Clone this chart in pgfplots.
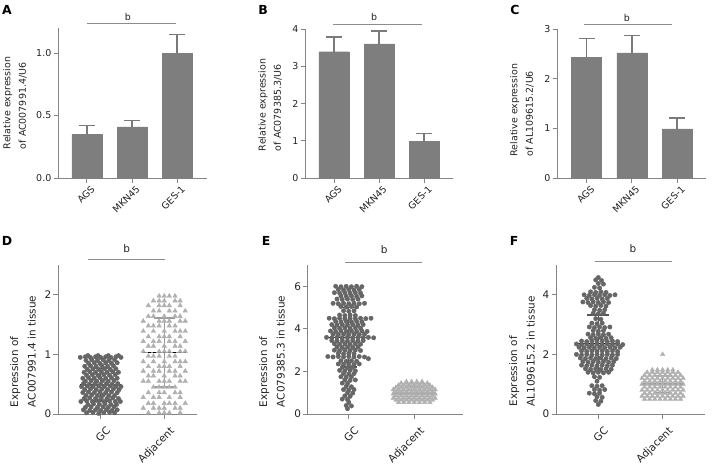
\documentclass[border=0pt]{standalone}
\usepackage{fontspec}
\setmainfont{DejaVu Sans}
\usepackage{pgfplots}
\pgfplotsset{compat=1.18}
\definecolor{bargray}{HTML}{7E7E7E}
\definecolor{errgray}{HTML}{7A7A7A}
\definecolor{axgray}{HTML}{858585}
\definecolor{siggray}{HTML}{8C8C8C}
\definecolor{gcgray}{HTML}{666666}
\definecolor{gcsd}{HTML}{555555}
\definecolor{adjgray}{HTML}{B0B0B0}
\definecolor{adjsd}{HTML}{9A9A9A}
\definecolor{txt}{HTML}{222222}
\pgfplotsset{
  panel/.style={scale only axis, anchor=south west, clip=false,
    axis lines*=left, axis line style={draw=axgray, line width=0.9bp, -},
    tick align=outside, major tick length=4.5bp,
    tick style={draw=axgray, line width=0.9bp},
    ymin=0, /pgf/number format/assume math mode=true,
    yticklabel style={inner sep=2bp, text=txt},
    ylabel style={align=left, anchor=center, text=txt}},
  top/.style={panel, tick label style={font=\fontsize{9.5}{11}\selectfont},
    label style={font=\fontsize{9.5}{15.5}\selectfont},
    xticklabel style={rotate=45, anchor=north east, inner sep=1.5bp, text=txt, xshift=2.5bp, yshift=-2.5bp},
    xtick={0,1,2}, xticklabels={AGS,MKN45,GES-1}},
  bot/.style={panel, tick label style={font=\fontsize{10.5}{12}\selectfont},
    label style={font=\fontsize{10.5}{17.5}\selectfont},
    xticklabel style={rotate=45, anchor=north east, inner sep=1.5bp, text=txt, xshift=0bp, yshift=-7bp},
    xtick={0,1}, xticklabels={GC,Adjacent}},
  barplot/.style={ybar, bar width=30bp, fill=bargray, draw=bargray,
    error bars/.cd, y dir=plus, y explicit,
    error bar style={draw=errgray, line width=1.5bp},
    error mark options={draw=errgray, rotate=90, mark size=8bp, line width=1.5bp}},
  gcdots/.style={only marks, mark=*, mark size=2.2bp, mark options={draw=gcgray, fill=gcgray}},
  adjdots/.style={only marks, mark=triangle*, mark size=2.6bp, mark options={draw=adjgray, fill=adjgray}},
  sdbar/.style 2 args={draw=none, mark=none, error bars/.cd, y dir=both, y explicit,
    error bar style={draw=#1, line width=1.4bp},
    error mark options={draw=#1, rotate=90, mark size=#2, line width=1.4bp}},
  meanbase/.style={line width=1.7bp, mark=none},
  meandash/.style={black, line width=1.2bp, dash pattern=on 3bp off 2bp, mark=none},
}
\newcommand{\sigtop}{\fontsize{9.5}{11}\selectfont}
\newcommand{\sigbot}{\fontsize{10.5}{12}\selectfont}
\begin{document}
\begin{tikzpicture}
\useasboundingbox (0,0) rectangle (714bp,-465bp);
\tikzset{letter/.style={font=\bfseries\fontsize{12.5}{14}\selectfont, anchor=center}}
\node[letter] at (7bp,-9.5bp) {A};
\node[letter] at (263bp,-9.5bp) {B};
\node[letter] at (515bp,-9.5bp) {C};
\node[letter] at (7bp,-241bp) {D};
\node[letter] at (266bp,-241bp) {E};
\node[letter] at (514bp,-241bp) {F};

% ---------- A ----------
\begin{axis}[top, at={(58bp,-178bp)}, width=149bp, height=150bp,
  xmin=-0.638, xmax=2.66, ymax=1.2, ytick={0,0.5,1.0},
  yticklabel style={/pgf/number format/.cd, fixed, fixed zerofill, precision=1},
  ylabel={Relative expression\\of AC007991.4/U6},
  ylabel style={at={(axis description cs:-0.289,0.5)}}]
\addplot[barplot] coordinates {(0,0.347) +- (0,0.073) (1,0.41) +- (0,0.05) (2,1.0) +- (0,0.15)};
\draw[siggray, line width=0.8bp] (axis cs:0,1.235) -- (axis cs:1.98,1.235);
\node[font=\sigtop, text=txt] at (axis cs:0.91,1.29) {b};
\end{axis}

% ---------- B ----------
\begin{axis}[top, at={(305bp,-178bp)}, width=148bp, height=149bp,
  xmin=-0.644, xmax=2.644, ymax=4, ytick={0,1,2,3,4},
  ylabel={Relative expression\\of AC079385.3/U6},
  ylabel style={at={(axis description cs:-0.236,0.49)}}]
\addplot[barplot] coordinates {(0,3.39) +- (0,0.40) (1,3.6) +- (0,0.35) (2,0.98) +- (0,0.21)};
\draw[siggray, line width=0.8bp] (axis cs:-0.02,4.13) -- (axis cs:1.96,4.13);
\node[font=\sigtop, text=txt] at (axis cs:0.89,4.32) {b};
\end{axis}

% ---------- C ----------
\begin{axis}[top, at={(557bp,-178bp)}, width=149bp, height=149bp,
  xmin=-0.652, xmax=2.64, ymax=3, ytick={0,1,2,3},
  ylabel={Relative expression\\of AL109615.2/U6},
  ylabel style={at={(axis description cs:-0.235,0.456)}}]
\addplot[barplot] coordinates {(0,2.43) +- (0,0.38) (1,2.52) +- (0,0.35) (2,0.99) +- (0,0.22)};
\draw[siggray, line width=0.8bp] (axis cs:-0.06,3.10) -- (axis cs:1.89,3.10);
\node[font=\sigtop, text=txt] at (axis cs:0.89,3.22) {b};
\end{axis}

% ---------- D ----------
\begin{axis}[bot, at={(58bp,-414bp)}, width=138.7bp, height=149bp,
  xmin=-0.67, xmax=1.51, ymax=2.5, ytick={0,1,2},
  ylabel={Expression of\\AC007991.4 in tissue},
  ylabel style={at={(axis description cs:-0.252,0.42)}}]
\addplot[gcdots] coordinates {
(-0.22,0.02)(-0.12,0.03)(-0.03,0.01)(0.05,0.02)(0.14,0.03)(0.22,0.02)
(-0.27,0.07)(-0.17,0.06)(-0.08,0.07)(0.0,0.06)(0.09,0.07)(0.18,0.06)(0.26,0.07)
(-0.24,0.11)(-0.15,0.12)(-0.05,0.11)(0.04,0.12)(0.12,0.11)(0.21,0.12)
(-0.20,0.16)(-0.11,0.17)(-0.02,0.16)(0.07,0.17)(0.16,0.16)(0.25,0.16)
(-0.31,0.21)(-0.22,0.22)(-0.13,0.21)(-0.04,0.22)(0.05,0.21)(0.14,0.22)(0.23,0.21)(0.31,0.21)
(-0.26,0.26)(-0.17,0.27)(-0.08,0.26)(0.01,0.27)(0.10,0.26)(0.19,0.27)(0.28,0.26)
(-0.23,0.31)(-0.14,0.32)(-0.05,0.31)(0.04,0.32)(0.13,0.31)(0.22,0.31)
(-0.28,0.36)(-0.19,0.37)(-0.10,0.36)(-0.01,0.37)(0.08,0.36)(0.17,0.37)(0.26,0.36)
(-0.25,0.41)(-0.16,0.42)(-0.07,0.41)(0.02,0.42)(0.11,0.41)(0.20,0.42)(0.29,0.41)
(-0.30,0.46)(-0.21,0.47)(-0.12,0.46)(-0.03,0.47)(0.06,0.46)(0.15,0.47)(0.24,0.46)(0.32,0.46)
(-0.27,0.51)(-0.18,0.50)(-0.09,0.51)(0.0,0.50)(0.09,0.51)(0.18,0.50)(0.27,0.51)
(-0.24,0.55)(-0.15,0.56)(-0.06,0.55)(0.03,0.56)(0.12,0.55)(0.21,0.56)
(-0.28,0.60)(-0.19,0.61)(-0.10,0.60)(-0.01,0.61)(0.08,0.60)(0.17,0.61)(0.26,0.60)
(-0.22,0.65)(-0.13,0.66)(-0.04,0.65)(0.05,0.66)(0.14,0.65)(0.23,0.66)
(-0.26,0.70)(-0.17,0.71)(-0.08,0.70)(0.01,0.71)(0.10,0.70)(0.19,0.71)(0.28,0.70)
(-0.21,0.75)(-0.12,0.76)(-0.03,0.75)(0.06,0.76)(0.15,0.75)(0.24,0.76)
(-0.25,0.80)(-0.16,0.81)(-0.07,0.80)(0.02,0.81)(0.11,0.80)(0.20,0.81)
(-0.19,0.85)(-0.10,0.86)(-0.01,0.85)(0.08,0.86)(0.17,0.85)(0.26,0.86)
(-0.23,0.90)(-0.14,0.91)(-0.05,0.90)(0.04,0.91)(0.13,0.90)(0.22,0.91)
(-0.32,0.95)(-0.24,0.96)(-0.16,0.95)(-0.08,0.96)(0.0,0.95)(0.08,0.96)(0.16,0.95)(0.24,0.96)(0.32,0.95)
(-0.20,0.98)(-0.04,0.98)(0.12,0.98)(0.28,0.98)};
\addplot[adjdots] coordinates {
(0.75,0.02)(0.92,0.02)(1.00,0.02)(1.08,0.02)(1.25,0.02)
(0.67,0.10)(0.83,0.10)(0.92,0.10)(1.00,0.10)(1.17,0.10)(1.25,0.10)
(0.75,0.18)(0.83,0.18)(1.00,0.18)(1.08,0.18)(1.17,0.18)(1.33,0.18)
(0.67,0.28)(0.83,0.28)(0.92,0.28)(1.08,0.28)(1.25,0.28)
(0.75,0.36)(0.92,0.36)(1.00,0.36)(1.17,0.36)(1.25,0.36)
(0.83,0.45)(0.92,0.45)(1.00,0.45)(1.08,0.45)(1.17,0.45)
(0.67,0.55)(0.75,0.55)(0.92,0.55)(1.00,0.55)(1.08,0.55)(1.25,0.55)(1.33,0.55)
(0.75,0.64)(0.83,0.64)(1.00,0.64)(1.17,0.64)(1.25,0.64)
(0.67,0.72)(0.83,0.72)(0.92,0.72)(1.08,0.72)(1.17,0.72)(1.33,0.72)
(0.75,0.80)(0.92,0.80)(1.00,0.80)(1.08,0.80)(1.25,0.80)
(0.67,0.88)(0.83,0.88)(1.00,0.88)(1.17,0.88)(1.25,0.88)(1.33,0.88)
(0.75,0.97)(0.83,0.97)(0.92,0.97)(1.08,0.97)(1.17,0.97)
(0.67,1.05)(0.92,1.05)(1.00,1.05)(1.08,1.05)(1.25,1.05)(1.33,1.05)
(0.75,1.14)(0.83,1.14)(1.00,1.14)(1.17,1.14)(1.25,1.14)
(0.67,1.22)(0.83,1.22)(0.92,1.22)(1.08,1.22)(1.17,1.22)(1.33,1.22)
(0.75,1.30)(0.92,1.30)(1.00,1.30)(1.08,1.30)(1.25,1.30)
(0.67,1.39)(0.83,1.39)(1.00,1.39)(1.17,1.39)(1.25,1.39)(1.33,1.39)
(0.75,1.48)(0.83,1.48)(0.92,1.48)(1.08,1.48)(1.17,1.48)
(0.67,1.56)(0.92,1.56)(1.00,1.56)(1.08,1.56)(1.25,1.56)(1.33,1.56)
(0.75,1.64)(0.83,1.64)(1.00,1.64)(1.17,1.64)(1.25,1.64)
(0.83,1.73)(0.92,1.73)(1.08,1.73)(1.17,1.73)(1.33,1.73)
(0.75,1.82)(0.92,1.82)(1.00,1.82)(1.08,1.82)(1.25,1.82)
(0.83,1.90)(0.92,1.90)(1.00,1.90)(1.17,1.90)(1.25,1.90)
(0.92,1.98)(1.00,1.98)(1.08,1.98)(1.17,1.98)};
\addplot[sdbar={gcsd}{7bp}] coordinates {(0,0.49) +- (0,0.27)};
\addplot[sdbar={adjsd}{10.5bp}] coordinates {(1,1.03) +- (0,0.58)};
\addplot[meanbase, gcsd] coordinates {(-0.32,0.49) (0.32,0.49)};
\addplot[meandash] coordinates {(-0.32,0.49) (0.32,0.49)};
\addplot[meanbase, adjsd] coordinates {(0.66,1.03) (1.34,1.03)};
\addplot[meandash] coordinates {(0.66,1.03) (1.34,1.03)};
\draw[siggray, line width=0.8bp] (axis cs:-0.2,2.59) -- (axis cs:1.01,2.59);
\node[font=\sigbot, text=txt] at (axis cs:0.41,2.78) {b};
\end{axis}

% ---------- E ----------
\begin{axis}[bot, at={(307.7bp,-414bp)}, width=155.3bp, height=149bp,
  xmin=-0.628, xmax=1.746, ymax=7, ytick={0,2,4,6},
  ylabel={Expression of\\AC079385.3 in tissue},
  ylabel style={at={(axis description cs:-0.23,0.42)}}]
\addplot[gcdots] coordinates {
(-0.20,6.0)(-0.12,5.98)(-0.04,6.0)(0.04,5.98)(0.12,6.0)(0.20,5.98)
(-0.16,5.85)(-0.08,5.83)(0.0,5.85)(0.08,5.83)(0.16,5.85)
(-0.22,5.7)(-0.14,5.68)(-0.06,5.7)(0.02,5.68)(0.10,5.7)(0.18,5.68)
(-0.12,5.55)(-0.04,5.53)(0.04,5.55)(0.12,5.53)(0.20,5.55)
(-0.18,5.4)(-0.10,5.38)(-0.02,5.4)(0.06,5.38)(0.14,5.4)
(-0.24,5.2)(-0.16,5.18)(-0.08,5.2)(0.0,5.18)(0.08,5.2)(0.16,5.18)(0.24,5.2)
(-0.12,5.05)(-0.04,5.03)(0.04,5.05)(0.12,5.03)
(-0.08,4.85)(0.0,4.83)(0.08,4.85)
(-0.14,4.65)(-0.06,4.63)(0.02,4.65)(0.10,4.63)
(-0.30,4.5)(-0.22,4.48)(-0.14,4.5)(-0.06,4.48)(0.02,4.5)(0.10,4.48)(0.18,4.5)(0.26,4.48)(0.34,4.5)
(-0.20,4.35)(-0.12,4.33)(-0.04,4.35)(0.04,4.33)(0.12,4.35)(0.20,4.33)
(-0.26,4.2)(-0.18,4.18)(-0.10,4.2)(-0.02,4.18)(0.06,4.2)(0.14,4.18)(0.22,4.2)
(-0.22,4.05)(-0.14,4.03)(-0.06,4.05)(0.02,4.03)(0.10,4.05)(0.18,4.03)
(-0.28,3.9)(-0.20,3.88)(-0.12,3.9)(-0.04,3.88)(0.04,3.9)(0.12,3.88)(0.20,3.9)(0.28,3.88)
(-0.24,3.75)(-0.16,3.73)(-0.08,3.75)(0.0,3.73)(0.08,3.75)(0.16,3.73)(0.24,3.75)
(-0.34,3.6)(-0.26,3.58)(-0.18,3.6)(-0.10,3.58)(-0.02,3.6)(0.06,3.58)(0.14,3.6)(0.22,3.58)(0.30,3.6)(0.38,3.58)
(-0.26,3.45)(-0.18,3.43)(-0.10,3.45)(-0.02,3.43)(0.06,3.45)(0.14,3.43)(0.22,3.45)
(-0.22,3.3)(-0.14,3.28)(-0.06,3.3)(0.02,3.28)(0.10,3.3)(0.18,3.28)
(-0.18,3.15)(-0.10,3.13)(-0.02,3.15)(0.06,3.13)(0.14,3.15)
(-0.22,3.0)(-0.14,2.98)(-0.06,3.0)(0.02,2.98)(0.10,3.0)(0.18,2.98)
(-0.16,2.85)(-0.08,2.83)(0.0,2.85)(0.08,2.83)
(-0.32,2.7)(-0.24,2.68)(-0.16,2.7)(-0.08,2.68)(0.0,2.7)(0.08,2.68)(0.16,2.7)(0.24,2.68)
(0.30,2.6)
(-0.12,2.5)(-0.04,2.48)(0.04,2.5)(0.12,2.48)
(-0.16,2.35)(-0.08,2.33)(0.0,2.35)(0.08,2.33)(0.16,2.35)
(-0.10,2.2)(-0.02,2.18)(0.06,2.2)
(-0.14,2.05)(-0.06,2.03)(0.02,2.05)(0.10,2.03)
(-0.08,1.9)(0.0,1.88)(0.08,1.9)
(-0.12,1.75)(-0.04,1.73)(0.04,1.75)
(-0.06,1.6)(0.02,1.58)(0.10,1.6)
(-0.10,1.45)(-0.02,1.43)
(-0.04,1.3)(0.04,1.28)
(-0.08,1.15)(0.0,1.13)(0.08,1.15)
(-0.02,1.0)(0.06,0.98)
(-0.06,0.85)(0.02,0.83)
(-0.10,0.7)(-0.02,0.68)
(0.0,0.55)
(-0.04,0.4)(0.04,0.38)
(-0.02,0.25)};
\addplot[adjdots] coordinates {
(0.76,0.55)(0.84,0.55)(0.92,0.55)(1.00,0.55)(1.08,0.55)(1.16,0.55)(1.24,0.55)
(0.72,0.65)(0.80,0.65)(0.88,0.65)(0.96,0.65)(1.04,0.65)(1.12,0.65)(1.20,0.65)(1.28,0.65)
(0.68,0.75)(0.76,0.75)(0.84,0.75)(0.92,0.75)(1.00,0.75)(1.08,0.75)(1.16,0.75)(1.24,0.75)(1.32,0.75)
(0.72,0.85)(0.80,0.85)(0.88,0.85)(0.96,0.85)(1.04,0.85)(1.12,0.85)(1.20,0.85)(1.28,0.85)
(0.68,0.95)(0.76,0.95)(0.84,0.95)(0.92,0.95)(1.00,0.95)(1.08,0.95)(1.16,0.95)(1.24,0.95)(1.32,0.95)
(0.72,1.05)(0.80,1.05)(0.88,1.05)(0.96,1.05)(1.04,1.05)(1.12,1.05)(1.20,1.05)(1.28,1.05)
(0.68,1.15)(0.76,1.15)(0.84,1.15)(0.92,1.15)(1.00,1.15)(1.08,1.15)(1.16,1.15)(1.24,1.15)(1.32,1.15)
(0.72,1.25)(0.80,1.25)(0.88,1.25)(0.96,1.25)(1.04,1.25)(1.12,1.25)(1.20,1.25)(1.28,1.25)
(0.76,1.35)(0.84,1.35)(0.92,1.35)(1.00,1.35)(1.08,1.35)(1.16,1.35)(1.24,1.35)
(0.80,1.45)(0.88,1.45)(0.96,1.45)(1.04,1.45)(1.12,1.45)(1.20,1.45)
(0.88,1.52)(0.96,1.52)(1.04,1.52)(1.12,1.52)};
\addplot[sdbar={gcsd}{8bp}] coordinates {(0,3.6) +- (0,1.4)};
\addplot[sdbar={adjsd}{8bp}] coordinates {(1,1.0) +- (0,0.28)};
\addplot[meanbase, gcsd] coordinates {(-0.33,3.6) (0.33,3.6)};
\addplot[meandash] coordinates {(-0.33,3.6) (0.33,3.6)};
\addplot[meanbase, adjsd] coordinates {(0.67,1.0) (1.33,1.0)};
\addplot[meandash] coordinates {(0.67,1.0) (1.33,1.0)};
\draw[siggray, line width=0.8bp] (axis cs:-0.06,7.10) -- (axis cs:1.12,7.10);
\node[font=\sigbot, text=txt] at (axis cs:0.54,7.71) {b};
\end{axis}

% ---------- F ----------
\begin{axis}[bot, at={(556bp,-414bp)}, width=149bp, height=149bp,
  xmin=-0.658, xmax=1.66, ymax=5, ytick={0,2,4},
  ylabel={Expression of\\AL109615.2 in tissue},
  ylabel style={at={(axis description cs:-0.228,0.42)}}]
\addplot[gcdots] coordinates {
(0.0,4.58)(-0.04,4.5)(0.05,4.48)(0.0,4.38)(0.08,4.36)(-0.06,4.25)(0.02,4.23)
(-0.12,4.1)(-0.04,4.08)(0.04,4.1)(0.12,4.08)
(-0.22,4.0)(-0.14,3.98)(-0.06,4.0)(0.02,3.98)(0.10,4.0)(0.18,3.98)(0.26,4.0)
(-0.18,3.88)(-0.10,3.86)(-0.02,3.88)(0.06,3.86)(0.14,3.88)
(-0.24,3.76)(-0.16,3.74)(-0.08,3.76)(0.0,3.74)(0.08,3.76)(0.16,3.74)
(-0.12,3.64)(-0.04,3.62)(0.04,3.64)(0.12,3.62)
(-0.06,3.5)(0.02,3.48)(0.10,3.5)
(-0.08,3.38)(0.0,3.36)(0.08,3.38)
(-0.04,3.2)(0.04,3.18)
(-0.10,3.05)(-0.02,3.03)(0.06,3.05)
(-0.14,2.92)(-0.06,2.9)(0.02,2.92)(0.10,2.9)(0.18,2.92)
(-0.08,2.8)(0.0,2.78)(0.08,2.8)
(-0.16,2.68)(-0.08,2.66)(0.0,2.68)(0.08,2.66)(0.16,2.68)
(-0.12,2.56)(-0.04,2.54)(0.04,2.56)(0.12,2.54)(0.20,2.56)
(-0.26,2.45)(-0.18,2.43)(-0.10,2.45)(-0.02,2.43)(0.06,2.45)(0.14,2.43)(0.22,2.45)(0.30,2.43)
(-0.34,2.35)(-0.26,2.33)(-0.18,2.35)(-0.10,2.33)(-0.02,2.35)(0.06,2.33)(0.14,2.35)(0.22,2.33)(0.30,2.35)(0.38,2.33)
(-0.30,2.24)(-0.22,2.22)(-0.14,2.24)(-0.06,2.22)(0.02,2.24)(0.10,2.22)(0.18,2.24)(0.26,2.22)(0.34,2.24)
(-0.26,2.12)(-0.18,2.1)(-0.10,2.12)(-0.02,2.1)(0.06,2.12)(0.14,2.1)(0.22,2.12)(0.30,2.1)
(-0.34,2.0)(-0.26,1.98)(-0.18,2.0)(-0.10,1.98)(-0.02,2.0)(0.06,1.98)(0.14,2.0)(0.22,1.98)(0.30,2.0)
(-0.28,1.88)(-0.20,1.86)(-0.12,1.88)(-0.04,1.86)(0.04,1.88)(0.12,1.86)(0.20,1.88)(0.28,1.86)
(-0.24,1.76)(-0.16,1.74)(-0.08,1.76)(0.0,1.74)(0.08,1.76)(0.16,1.74)(0.24,1.76)
(-0.26,1.64)(-0.18,1.62)(-0.10,1.64)(-0.02,1.62)(0.06,1.64)(0.14,1.62)(0.22,1.64)
(-0.20,1.52)(-0.12,1.5)(-0.04,1.52)(0.04,1.5)(0.12,1.52)(0.20,1.5)
(-0.16,1.4)(-0.08,1.38)(0.0,1.4)(0.08,1.38)(0.16,1.4)
(-0.06,1.25)(0.02,1.23)
(-0.02,1.1)
(-0.10,0.95)(-0.02,0.93)(0.06,0.95)
(-0.06,0.82)(0.02,0.8)(0.10,0.82)
(-0.14,0.7)(-0.06,0.68)(0.02,0.7)
(-0.02,0.58)(0.06,0.56)
(-0.04,0.45)(0.04,0.43)
(0.0,0.32)};
\addplot[adjdots] coordinates {
(0.72,0.50)(0.80,0.50)(0.88,0.50)(0.96,0.50)(1.04,0.50)(1.12,0.50)(1.20,0.50)(1.28,0.50)
(0.68,0.60)(0.76,0.60)(0.84,0.60)(0.92,0.60)(1.00,0.60)(1.08,0.60)(1.16,0.60)(1.24,0.60)(1.32,0.60)
(0.72,0.70)(0.80,0.70)(0.88,0.70)(0.96,0.70)(1.04,0.70)(1.12,0.70)(1.20,0.70)(1.28,0.70)
(0.68,0.80)(0.76,0.80)(0.84,0.80)(0.92,0.80)(1.00,0.80)(1.08,0.80)(1.16,0.80)(1.24,0.80)(1.32,0.80)
(0.72,0.90)(0.80,0.90)(0.88,0.90)(0.96,0.90)(1.04,0.90)(1.12,0.90)(1.20,0.90)(1.28,0.90)
(0.68,1.00)(0.76,1.00)(0.84,1.00)(0.92,1.00)(1.00,1.00)(1.08,1.00)(1.16,1.00)(1.24,1.00)(1.32,1.00)
(0.72,1.10)(0.80,1.10)(0.88,1.10)(0.96,1.10)(1.04,1.10)(1.12,1.10)(1.20,1.10)(1.28,1.10)
(0.68,1.20)(0.76,1.20)(0.84,1.20)(0.92,1.20)(1.00,1.20)(1.08,1.20)(1.16,1.20)(1.24,1.20)(1.32,1.20)
(0.72,1.30)(0.80,1.30)(0.88,1.30)(0.96,1.30)(1.04,1.30)(1.12,1.30)(1.20,1.30)(1.28,1.30)
(0.76,1.40)(0.84,1.40)(0.92,1.40)(1.00,1.40)(1.08,1.40)(1.16,1.40)(1.24,1.40)
(0.84,1.48)(0.92,1.48)(1.00,1.48)(1.08,1.48)(1.16,1.48)
(1.00,2.00)};
\addplot[sdbar={gcsd}{11bp}] coordinates {(0,2.37) +- (0,0.95)};
\addplot[sdbar={adjsd}{8bp}] coordinates {(1,1.0) +- (0,0.28)};
\addplot[meanbase, gcsd] coordinates {(-0.33,2.37) (0.33,2.37)};
\addplot[meandash] coordinates {(-0.33,2.37) (0.33,2.37)};
\addplot[meanbase, adjsd] coordinates {(0.67,1.0) (1.33,1.0)};
\addplot[meandash] coordinates {(0.67,1.0) (1.33,1.0)};
\draw[siggray, line width=0.8bp] (axis cs:-0.05,5.11) -- (axis cs:1.14,5.11);
\node[font=\sigbot, text=txt] at (axis cs:0.54,5.54) {b};
\end{axis}
\end{tikzpicture}
\end{document}
